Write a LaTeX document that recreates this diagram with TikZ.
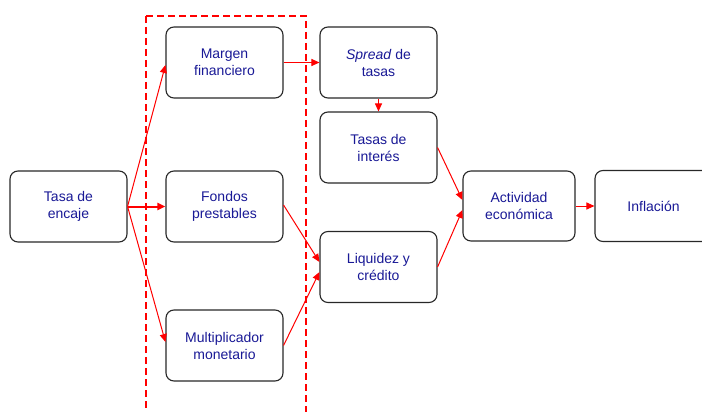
\documentclass[tikz,border=0pt]{standalone}
\usepackage{fontspec}
\setmainfont{Liberation Sans}
\usetikzlibrary{arrows.meta}
\definecolor{txtblue}{RGB}{25,25,150}
\definecolor{boxline}{RGB}{40,40,40}
\definecolor{arrred}{RGB}{255,0,0}
\tikzset{
  box/.style={draw=boxline, line width=1.1pt, rounded corners=8pt, fill=white,
    minimum width=117pt, minimum height=71pt, align=center, inner sep=0pt,
    text=txtblue, font=\fontsize{14pt}{17pt}\selectfont},
  conn/.style={draw=arrred, line width=1pt, -{Triangle[length=8pt,width=7pt]}},
  thickconn/.style={conn, line width=2pt},
  region/.style={draw=arrred, line width=2pt, dash pattern=on 7pt off 4pt}
}
\begin{document}
\begin{tikzpicture}[x=1pt,y=-1pt]
\useasboundingbox (0,0) rectangle (702,412);
\draw[region] (146,16) -- (306,16) -- (306,420);
\draw[region] (146,16) -- (146,420);
\node[box] (enc) at (68.5,206.5) {Tasa de\\encaje};
\node[box] (marg) at (224.5,62.5) {Margen\\financiero};
\node[box] (fond) at (224.5,206.5) {Fondos\\prestables};
\node[box] (mult) at (224.5,345.5) {Multiplicador\\monetario};
\node[box] (spr) at (378.5,62.5) {\textit{Spread} de\\tasas};
\node[box] (tas) at (378.5,147.5) {Tasas de\\interés};
\node[box] (liq) at (378.5,267) {Liquidez y\\crédito};
\node[box, minimum width=112pt, minimum height=70pt] (act) at (519,206) {Actividad\\económica};
\node[box] (inf) at (653.5,206) {Inflación};
\draw[conn] (enc.east) -- ([yshift=-2.5pt]marg.west);
\draw[thickconn] (enc.east) -- (fond.west);
\draw[conn] (enc.east) -- ([yshift=3.5pt]mult.west);
\draw[conn] (marg.east) -- (spr.west);
\draw[conn] (spr.south) -- (tas.north);
\draw[conn] ([yshift=1.5pt]fond.east) -- ([yshift=5pt]liq.west);
\draw[conn] (mult.east) -- ([yshift=-5pt]liq.west);
\draw[conn] (tas.east) -- ([yshift=6pt]act.west);
\draw[conn] (liq.east) -- ([yshift=-4pt]act.west);
\draw[conn] (act.east) -- (inf.west);
\end{tikzpicture}
\end{document}
